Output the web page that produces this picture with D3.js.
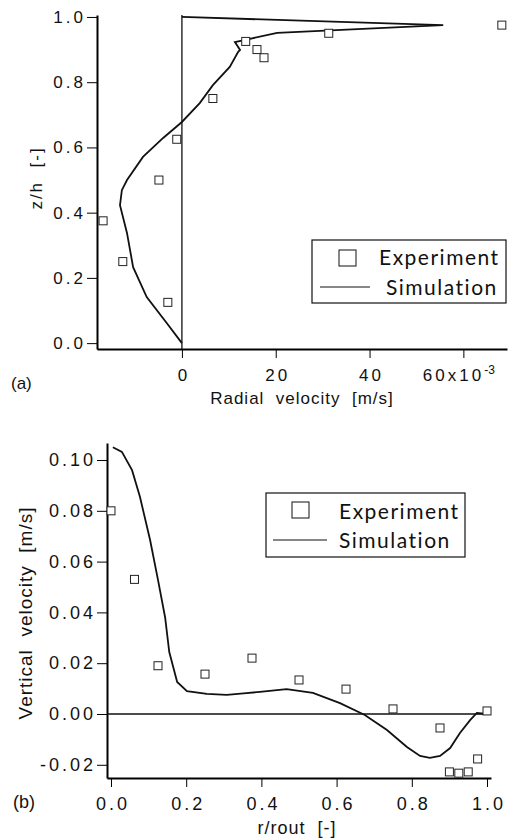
<!DOCTYPE html>
<html>
<head>
<meta charset="utf-8">
<script src="https://cdn.jsdelivr.net/npm/d3@7"></script>
<style>
  body { margin: 0; background: #fff; }
  .tick text { font-family: "Liberation Sans", Arial, sans-serif; letter-spacing: 3px; fill: #111; }
  .top .tick text { font-size: 17px; }
  .bot .tick text { font-size: 18px; }
  .lbl { font-family: "Liberation Sans", Arial, sans-serif; fill: #111; white-space: pre; }
  .leg { font-family: "Lato", "Open Sans", sans-serif; font-size: 21px; letter-spacing: 1.5px; fill: #111; }
</style>
</head>
<body>
<div class="chart"></div>
<script>
// (a) radial velocity profile, u in 1e-3 m/s
const expZ = [0.125, 0.25, 0.375, 0.5, 0.625, 0.75, 0.875, 0.9, 0.925, 0.95, 0.975]
const expU = [-3.0, -12.6, -16.8, -4.9, -1.1, 6.6, 17.5, 16.0, 13.6, 31.3, 68.2]
const simZ = [0, 0.061, 0.141, 0.233, 0.337, 0.423, 0.469, 0.5, 0.571, 0.629, 0.678, 0.736, 0.791, 0.847, 0.893, 0.899, 0.923, 0.933, 0.951, 0.975, 1.0]
const simU = [0, -3.2, -7.5, -10.4, -11.7, -13.2, -12.8, -11.7, -8.3, -4.0, 0, 3.8, 6.6, 10.2, 12.0, 12.4, 11.3, 14.5, 20.3, 55.7, 0]
const ticksZ = [0, 0.2, 0.4, 0.6, 0.8, 1.0]
const ticksU = [0, 20, 40, 60]

// (b) vertical velocity profile
const expR = [0, 0.0625, 0.125, 0.25, 0.375, 0.5, 0.625, 0.75, 0.875, 0.9, 0.925, 0.95, 0.975, 1.0]
const expW = [0.080, 0.053, 0.019, 0.0157, 0.022, 0.0134, 0.0098, 0.002, -0.0055, -0.0228, -0.0233, -0.0228, -0.0177, 0.0012]
const simR = [0.005, 0.029, 0.056, 0.077, 0.104, 0.125, 0.144, 0.155, 0.176, 0.202, 0.255, 0.308, 0.36, 0.396, 0.467, 0.537, 0.609, 0.675, 0.734, 0.787, 0.822, 0.848, 0.875, 0.902, 0.928, 0.955, 0.973, 1.0]
const simW = [0.105, 0.1032, 0.096, 0.0855, 0.0685, 0.0528, 0.038, 0.0244, 0.0126, 0.009, 0.0079, 0.0075, 0.0082, 0.0087, 0.0098, 0.0083, 0.0043, -0.0004, -0.0063, -0.013, -0.0165, -0.0173, -0.0165, -0.0134, -0.0075, -0.0024, 0.0004, 0]
const ticksW = [-0.02, 0, 0.02, 0.04, 0.06, 0.08, 0.10]
const ticksR = [0, 0.2, 0.4, 0.6, 0.8, 1.0]

const svg = d3.select(".chart").append("svg")
    .attr("width", 511)
    .attr("height", 839)

const sq = 8
// plain hyphen for negatives, like the original figure
const fmt2 = d => d3.format(".2f")(d).replace("\u2212", "-")

// ---------- panel (a) ----------
const xA = d3.scaleLinear().domain([-18.1, 69.3]).range([97, 507])
const yA = d3.scaleLinear().domain([-0.018, 1.006]).range([349, 15])

svg.append("g").attr("class", "top")
    .attr("transform", "translate(97,0)")
    .call(d3.axisLeft(yA).tickValues(ticksZ).tickFormat(d3.format(".1f")).tickSize(10).tickSizeOuter(0).tickPadding(1))
    .call(g => g.select(".domain").attr("stroke-width", 2))

const axA = svg.append("g").attr("class", "top")
    .attr("transform", "translate(0,349)")
    .call(d3.axisBottom(xA).tickValues(ticksU).tickFormat(d => d === 60 ? "60x10" : d).tickSize(9).tickSizeOuter(0).tickPadding(11))
axA.select(".domain").attr("stroke-width", 2)
axA.selectAll(".tick text").attr("dx", 1.5)
axA.selectAll(".tick text").filter(d => d === 60)
    .attr("dx", -5)
    .append("tspan").attr("dy", "-0.55em").style("font-size", "12px").style("letter-spacing", "0px").text("-3")

// zero reference line
svg.append("line")
    .attr("x1", xA(0)).attr("x2", xA(0))
    .attr("y1", yA.range()[1]).attr("y2", yA.range()[0])
    .attr("stroke", "#111").attr("stroke-width", 1.3)

svg.append("path")
    .datum(simZ.map((z, i) => [simU[i], z]))
    .attr("fill", "none").attr("stroke", "#111").attr("stroke-width", 1.8)
    .attr("d", d3.line().x(d => xA(d[0])).y(d => yA(d[1])))

svg.selectAll(".ptA").data(expZ).enter().append("rect")
    .attr("x", (d, i) => xA(expU[i]) - sq / 2)
    .attr("y", d => yA(d) - sq / 2)
    .attr("width", sq).attr("height", sq)
    .attr("fill", "#fff").attr("stroke", "#222").attr("stroke-width", 1)

svg.append("text").attr("class", "lbl")
    .attr("transform", "translate(42,178) rotate(-90)")
    .attr("text-anchor", "middle")
    .style("font-size", "17px").style("letter-spacing", "2px")
    .text("z/h  [-]")
svg.append("text").attr("class", "lbl")
    .attr("x", 302).attr("y", 404).attr("text-anchor", "middle")
    .style("font-size", "17px").style("letter-spacing", "1px")
    .text("Radial  velocity  [m/s]")
svg.append("text").attr("class", "lbl").style("font-size", "17px")
    .attr("x", 11).attr("y", 389).text("(a)")

// legend (a)
svg.append("rect").attr("x", 312).attr("y", 240).attr("width", 194).attr("height", 63)
    .attr("fill", "#fff").attr("stroke", "#111").attr("stroke-width", 1.2)
svg.append("rect").attr("x", 339).attr("y", 250).attr("width", 17).attr("height", 16)
    .attr("fill", "none").attr("stroke", "#111").attr("stroke-width", 1)
svg.append("line").attr("x1", 320).attr("x2", 370).attr("y1", 287).attr("y2", 287)
    .attr("stroke", "#111").attr("stroke-width", 1.2)
svg.append("text").attr("class", "leg").attr("x", 379).attr("y", 265).text("Experiment")
svg.append("text").attr("class", "leg").attr("x", 386).attr("y", 295).text("Simulation")

// ---------- panel (b) ----------
const xB = d3.scaleLinear().domain([-0.0106, 1.0106]).range([107, 491])
const yB = d3.scaleLinear().domain([-0.0252, 0.1067]).range([778, 443])

svg.append("g").attr("class", "bot")
    .attr("transform", "translate(107,0)")
    .call(d3.axisLeft(yB).tickValues(ticksW).tickFormat(fmt2).tickSize(10).tickSizeOuter(0).tickPadding(1))
    .call(g => g.select(".domain").attr("stroke-width", 2))

svg.append("g").attr("class", "bot")
    .attr("transform", "translate(0,778)")
    .call(d3.axisBottom(xB).tickValues(ticksR).tickFormat(d3.format(".1f")).tickSize(9).tickSizeOuter(0).tickPadding(10))
    .call(g => g.select(".domain").attr("stroke-width", 2))
    .call(g => g.selectAll(".tick text").attr("dx", 1.5))

svg.append("line")
    .attr("x1", xB.range()[0]).attr("x2", xB.range()[1])
    .attr("y1", yB(0)).attr("y2", yB(0))
    .attr("stroke", "#111").attr("stroke-width", 1.3)

svg.append("path")
    .datum(simR.map((r, i) => [r, simW[i]]))
    .attr("fill", "none").attr("stroke", "#111").attr("stroke-width", 1.8)
    .attr("d", d3.line().x(d => xB(d[0])).y(d => yB(d[1])))

svg.selectAll(".ptB").data(expR).enter().append("rect")
    .attr("x", d => xB(d) - sq / 2)
    .attr("y", (d, i) => yB(expW[i]) - sq / 2)
    .attr("width", sq).attr("height", sq)
    .attr("fill", "#fff").attr("stroke", "#222").attr("stroke-width", 1)

svg.append("text").attr("class", "lbl")
    .attr("transform", "translate(32,613) rotate(-90)")
    .attr("text-anchor", "middle")
    .style("font-size", "19px").style("letter-spacing", "1px")
    .text("Vertical  velocity  [m/s]")
svg.append("text").attr("class", "lbl")
    .attr("x", 297).attr("y", 834).attr("text-anchor", "middle")
    .style("font-size", "18px").style("letter-spacing", "1px")
    .text("r/rout  [-]")
svg.append("text").attr("class", "lbl").style("font-size", "18px")
    .attr("x", 13).attr("y", 808).text("(b)")

// legend (b)
svg.append("rect").attr("x", 266).attr("y", 493).attr("width", 199).attr("height", 64)
    .attr("fill", "#fff").attr("stroke", "#111").attr("stroke-width", 1.2)
svg.append("rect").attr("x", 292).attr("y", 502).attr("width", 17).attr("height", 16)
    .attr("fill", "none").attr("stroke", "#111").attr("stroke-width", 1)
svg.append("line").attr("x1", 273).attr("x2", 327).attr("y1", 540).attr("y2", 540)
    .attr("stroke", "#111").attr("stroke-width", 1.2)
svg.append("text").attr("class", "leg").attr("x", 339).attr("y", 519).text("Experiment")
svg.append("text").attr("class", "leg").attr("x", 339).attr("y", 548).text("Simulation")
</script>
</body>
</html>
